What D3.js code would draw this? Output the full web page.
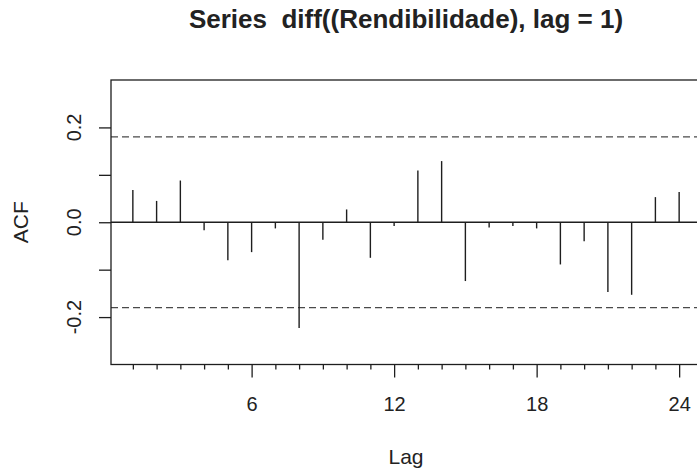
<!DOCTYPE html>
<html>
<head>
<meta charset="utf-8">
<script src="https://cdn.jsdelivr.net/npm/d3@7"></script>
<style>
  html, body { margin: 0; padding: 0; background: #fff; overflow: hidden; }
  svg { display: block; }
  text { font-family: "Liberation Sans", Arial, Helvetica, sans-serif; fill: #222; }
</style>
</head>
<body>
<svg id="chart" width="697" height="472"></svg>
<script>
// ---- data ----
const title = "Series  diff((Rendibilidade), lag = 1)";
const lags = [1,2,3,4,5,6,7,8,9,10,11,12,13,14,15,16,17,18,19,20,21,22,23,24];
const acfValues = [0.068, 0.045, 0.088, -0.017, -0.080, -0.063, -0.013, -0.223, -0.037, 0.027,
                   -0.075, -0.008, 0.109, 0.129, -0.124, -0.011, -0.008, -0.013, -0.089, -0.040,
                   -0.147, -0.153, 0.053, 0.064];
const ciLimit = 0.18;
const xTickLabels = [6, 12, 18, 24];
const yTicks = [-0.2, -0.1, 0.0, 0.1, 0.2];
const yTickLabels = ["-0.2", "0.0", "0.2"];

// ---- layout ----
const svg = d3.select("#chart");
const plotLeft = 111, plotRight = 701, plotTop = 80, plotBottom = 364.5;

const x = d3.scaleLinear().domain([0.08, 24.92]).range([plotLeft, plotRight]);
const y = d3.scaleLinear().domain([-0.3, 0.3]).range([plotBottom, plotTop]);

const ink = "#1e1e1e";

// title
svg.append("text")
  .attr("x", (plotLeft + plotRight) / 2)
  .attr("y", 28)
  .attr("text-anchor", "middle")
  .attr("xml:space", "preserve")
  .style("white-space", "pre")
  .style("font-size", "26px")
  .style("font-weight", "bold")
  .text(title);

// zero line
svg.append("line")
  .attr("x1", plotLeft).attr("x2", plotRight)
  .attr("y1", y(0)).attr("y2", y(0))
  .attr("stroke", ink).attr("stroke-width", 1.3);

// confidence lines
svg.selectAll("line.ci").data([ciLimit, -ciLimit]).enter().append("line")
  .attr("class", "ci")
  .attr("x1", plotLeft).attr("x2", plotRight)
  .attr("y1", d => y(d)).attr("y2", d => y(d))
  .attr("stroke", "#4a4a4a").attr("stroke-width", 1.4)
  .attr("stroke-dasharray", "7,4");

// bars
svg.selectAll("line.bar").data(lags).enter().append("line")
  .attr("class", "bar")
  .attr("x1", d => x(d)).attr("x2", d => x(d))
  .attr("y1", y(0)).attr("y2", (d, i) => y(acfValues[i]))
  .attr("stroke", ink).attr("stroke-width", 1.4);

// box
svg.append("rect")
  .attr("x", plotLeft).attr("y", plotTop)
  .attr("width", plotRight - plotLeft).attr("height", plotBottom - plotTop)
  .attr("fill", "none").attr("stroke", ink).attr("stroke-width", 1.3);

// x axis: minor ticks at every lag, major labelled ticks
const xMinor = d3.axisBottom(x).tickValues(lags.filter(l => !xTickLabels.includes(l)))
  .tickSize(5).tickFormat("");
svg.append("g").attr("transform", `translate(0,${plotBottom})`).call(xMinor)
  .call(g => g.select(".domain").remove())
  .call(g => g.selectAll("line").attr("stroke", ink).attr("stroke-width", 1.3));

const xMajor = d3.axisBottom(x).tickValues(xTickLabels).tickSize(13).tickPadding(19)
  .tickFormat(d => String(d));
svg.append("g").attr("transform", `translate(0,${plotBottom})`).call(xMajor)
  .call(g => g.select(".domain").remove())
  .call(g => g.selectAll("line").attr("stroke", ink).attr("stroke-width", 1.3))
  .call(g => g.selectAll("text").style("font-size", "20px")
    .attr("font-family", null).attr("fill", "#222"));

// y axis ticks
const yAxis = d3.axisLeft(y).tickValues(yTicks).tickSize(12).tickFormat("");
svg.append("g").attr("transform", `translate(${plotLeft},0)`).call(yAxis)
  .call(g => g.select(".domain").remove())
  .call(g => g.selectAll("line").attr("stroke", ink).attr("stroke-width", 1.3));

// y tick labels (rotated, as in R)
svg.selectAll("text.ylab").data(yTickLabels).enter().append("text")
  .attr("class", "ylab")
  .attr("transform", d => `translate(81,${y(+d)}) rotate(-90)`)
  .attr("text-anchor", "middle")
  .style("font-size", "20px")
  .text(d => d);

// axis titles
svg.append("text")
  .attr("x", (plotLeft + plotRight) / 2)
  .attr("y", 464)
  .attr("text-anchor", "middle")
  .style("font-size", "21px")
  .text("Lag");

svg.append("text")
  .attr("transform", `translate(28,${(plotTop + plotBottom) / 2}) rotate(-90)`)
  .attr("text-anchor", "middle")
  .style("font-size", "21px")
  .text("ACF");
</script>
</body>
</html>
